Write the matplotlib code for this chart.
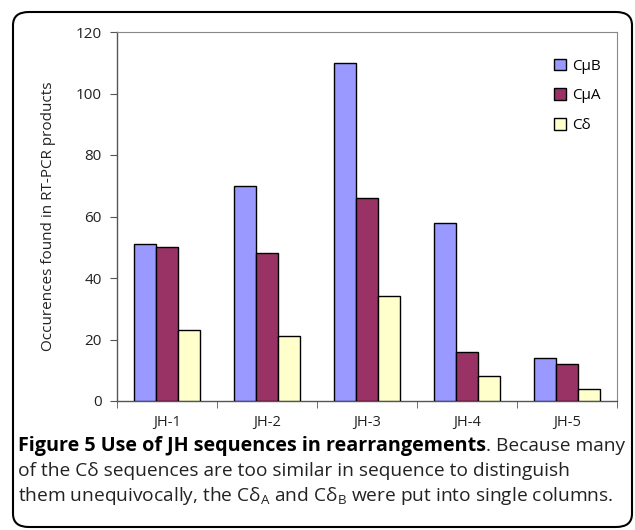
import matplotlib
matplotlib.use("Agg")
import matplotlib.pyplot as plt
import numpy as np
from matplotlib.patches import FancyBboxPatch

categories = ["JH-1", "JH-2", "JH-3", "JH-4", "JH-5"]
series_names = ["CμB", "CμA", "Cδ"]
cmub = [51, 70, 110, 58, 14]
cmua = [50, 48, 66, 16, 12]
cdelta = [23, 21, 34, 8, 4]
colors = ["#9999FF", "#993366", "#FFFFCC"]
yticks = [0, 20, 40, 60, 80, 100, 120]

plt.rcParams['font.family'] = ['Open Sans', 'DejaVu Sans']

fig = plt.figure(figsize=(6.35, 5.30), dpi=100)
W, H = 635, 530
ax = fig.add_axes([117 / W, 1 - 401 / H, 500 / W, 369 / H])

x = np.arange(len(categories))
bw = 0.22
for i, (vals, name, c) in enumerate(zip([cmub, cmua, cdelta], series_names, colors)):
    ax.bar(x + (i - 1) * bw, vals, width=bw, color=c, edgecolor="black", linewidth=1.0, label=name, zorder=3)

ax.set_xlim(-0.5, len(categories) - 0.5)
ax.set_ylim(0, 120)
ax.set_yticks(yticks)
ax.set_yticklabels([str(t) for t in yticks], fontsize=11, color="#222222")
ax.set_xticks(x)
ax.set_xticklabels(categories, fontsize=10.5, color="#222222")
ax.tick_params(axis='x', length=0, pad=10)
ax.set_xticks(np.arange(-0.5, len(categories), 1.0), minor=True)
ax.tick_params(axis='x', which='minor', length=5, direction='out', color="#555555")
ax.tick_params(axis='y', length=5, direction='out', color="#555555", pad=6)
for s in ['top', 'right']:
    ax.spines[s].set_color("#888888")
    ax.spines[s].set_linewidth(0.8)
for s in ['left', 'bottom']:
    ax.spines[s].set_color("#555555")
    ax.spines[s].set_linewidth(1.0)
ax.set_ylabel("Occurences found in RT-PCR products", fontsize=11, color="#222222", labelpad=14)

leg = ax.legend(loc='upper right', bbox_to_anchor=(0.995, 0.965), frameon=False, fontsize=11,
                handlelength=0.8, handleheight=0.8, handletextpad=0.4, labelspacing=0.95)

# figure border
border = FancyBboxPatch((13 / W, 3 / H), 619 / W, 515 / H, boxstyle="round,pad=0,rounding_size=0.025",
                        transform=fig.transFigure, fill=False, edgecolor="black", linewidth=1.5)
fig.patches.append(border)

fs = 13.8
t1 = fig.text(18 / W, 1 - 446 / H, "Figure 5 Use of JH sequences in rearrangements", fontsize=14.2,
              fontweight='bold', va='center', ha='left', color="black")
fig.canvas.draw()
bb = t1.get_window_extent()
fig.text(bb.x1 / W, 1 - 446 / H, ". Because many", fontsize=fs, va='center', ha='left', color="#222222")
fig.text(18 / W, 1 - 471 / H, "of the Cδ sequences are too similar in sequence to distinguish",
         fontsize=fs, va='center', ha='left', color="#222222")
fig.text(18 / W, 1 - 496 / H, r"them unequivocally, the C$\mathregular{\delta_A}$ and C$\mathregular{\delta_B}$ were put into single columns.",
         fontsize=fs, va='center', ha='left', color="#222222")

fig.savefig("out.png", dpi=100)
